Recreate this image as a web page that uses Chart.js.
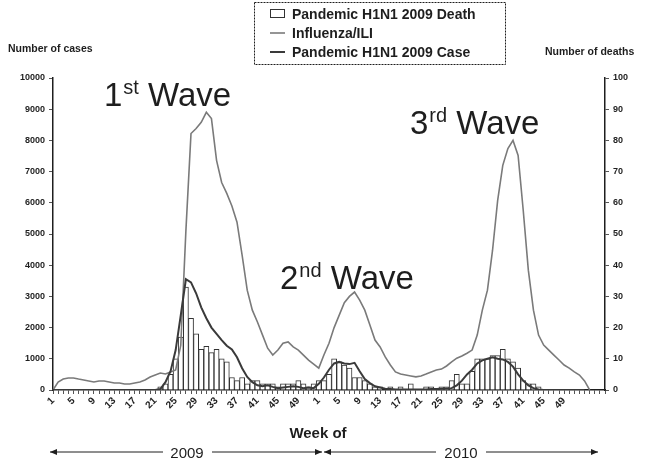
<!DOCTYPE html>
<html>
<head>
<meta charset="utf-8">
<script src="https://cdn.jsdelivr.net/npm/chart.js@4.4.1/dist/chart.umd.min.js"></script>
<style>
  html, body { margin: 0; padding: 0; background: #fff; }
</style>
</head>
<body>
<canvas id="MyChart" width="645" height="461"></canvas>
<script>
// week numbers on the category axis (2009, 2010, first weeks of 2011)
const weeks2009 = [1,2,3,4,5,6,7,8,9,10,11,12,13,14,15,16,17,18,19,20,21,22,23,24,25,26,
  27,28,29,30,31,32,33,34,35,36,37,38,39,40,41,42,43,44,45,46,47,48,49,50,51,52];
const weeks2010 = [1,2,3,4,5,6,7,8,9,10,11,12,13,14,15,16,17,18,19,20,21,22,23,24,25,26,
  27,28,29,30,31,32,33,34,35,36,37,38,39,40,41,42,43,44,45,46,47,48,49,50,51,52];
const weeks2011 = [1,2,3,4,5];
const tickWeeks = [1,5,9,13,17,21,25,29,33,37,41,45,49];

// Influenza/ILI cases per week
const iliCases = [
  0,256,350,384,384,350,320,290,256,290,
  290,256,224,224,190,190,224,256,320,416,
  480,544,512,576,640,1440,5100,8220,8380,8580,
  8900,8700,7360,6650,6300,5900,5380,4320,3200,2560,
  2180,1760,1340,1120,1280,1500,1540,1380,1280,1120,
  960,830,700,1120,1500,2000,2400,2800,3000,3140,
  2880,2560,2080,1600,1380,1060,800,580,510,480,
  450,420,450,510,580,640,670,770,900,1020,
  1090,1180,1280,1760,2560,3200,4480,6080,7200,7740,
  8000,7520,5760,3840,2560,1760,1440,1280,1120,960,
  800,700,580,480,290,0,null,null,null
];

// Pandemic H1N1 2009 confirmed cases per week
const h1n1Cases = [
  0,0,0,0,0,0,0,0,0,0,
  0,0,0,0,0,0,0,0,0,0,
  0,30,250,600,1280,2400,3550,3450,3100,2650,
  2300,2000,1800,1600,1420,1300,1050,700,420,250,
  150,120,150,100,60,80,100,120,100,60,
  80,60,200,400,650,850,900,850,830,870,
  600,350,220,120,80,40,30,20,20,20,
  20,20,20,20,30,30,40,50,60,150,
  300,500,650,850,950,1000,1050,1000,980,900,
  750,500,300,150,60,20,0,0,0,0,
  0,0,0,0,0,null,null,null,null
];

// Pandemic H1N1 2009 deaths per week
const h1n1Deaths = [
  0,0,0,0,0,0,0,0,0,0,
  0,0,0,0,0,0,0,0,0,0,
  0,1,2,5,10,17,33,23,18,13,
  14,12,13,10,9,4,3,4,2,3,
  3,2,2,2,1,2,2,2,3,2,
  1,2,3,3,5,10,9,8,7,4,
  4,3,2,1,1,0,1,0,1,0,
  2,0,0,1,1,0,1,1,3,5,
  2,2,6,10,10,10,11,11,13,10,
  9,7,3,2,2,1,0,0,0,0,
  0,0,0,0,0,0,0,0,0
];

const weekLabels = weeks2009.concat(weeks2010, weeks2011).map(String);
const lastLabelledIndex = weeks2009.length + weeks2010.length - 1;

const FONT = '"Liberation Sans", Arial, sans-serif';
const INK = '#1e1e1e';

const drawArrow = (ctx, x1, x2, y) => {
  const dir = x2 > x1 ? 1 : -1;
  ctx.beginPath();
  ctx.moveTo(x1, y);
  ctx.lineTo(x2, y);
  ctx.stroke();
  ctx.beginPath();
  ctx.moveTo(x2, y);
  ctx.lineTo(x2 - dir * 7, y - 3);
  ctx.lineTo(x2 - dir * 7, y + 3);
  ctx.closePath();
  ctx.fill();
};

const drawWave = (ctx, x, y, num, sup) => {
  ctx.font = '33px ' + FONT;
  ctx.fillText(num, x, y);
  let w = ctx.measureText(num).width;
  ctx.font = '20px ' + FONT;
  ctx.fillText(sup, x + w + 1, y - 12);
  w += ctx.measureText(sup).width + 1;
  ctx.font = '33px ' + FONT;
  ctx.fillText(' Wave', x + w, y);
};

const extrasPlugin = {
  id: 'extras',
  afterDraw(chart) {
    const ctx = chart.ctx;
    ctx.save();
    ctx.fillStyle = INK;
    ctx.strokeStyle = INK;
    ctx.textBaseline = 'alphabetic';

    // axis titles
    ctx.font = 'bold 10.5px ' + FONT;
    ctx.textAlign = 'left';
    ctx.fillText('Number of cases', 8, 52);
    ctx.fillText('Number of deaths', 545, 55);

    // legend box
    ctx.lineWidth = 1;
    ctx.setLineDash([2, 1]);
    ctx.strokeRect(254.5, 2.5, 251, 62);
    ctx.setLineDash([]);
    const ds = chart.data.datasets;
    const rows = [14, 33, 52];
    ds.forEach((d, i) => {
      const y = rows[i];
      if (d.type === 'bar') {
        ctx.lineWidth = 1;
        ctx.strokeStyle = d.borderColor;
        ctx.strokeRect(270.5, y - 4.5, 14, 8);
      } else {
        ctx.lineWidth = d.borderWidth;
        ctx.strokeStyle = d.borderColor;
        ctx.beginPath();
        ctx.moveTo(270, y);
        ctx.lineTo(285, y);
        ctx.stroke();
      }
      ctx.font = 'bold 14px ' + FONT;
      ctx.fillStyle = INK;
      ctx.fillText(d.label, 292, y + 5);
    });

    // wave annotations
    ctx.fillStyle = INK;
    drawWave(ctx, 104, 106, '1', 'st');
    drawWave(ctx, 280, 289, '2', 'nd');
    drawWave(ctx, 410, 134, '3', 'rd');

    // x axis title and year arrows
    ctx.textAlign = 'center';
    ctx.font = 'bold 15px ' + FONT;
    ctx.fillText('Week of', 318, 438);
    ctx.font = '15px ' + FONT;
    ctx.fillText('2009', 187, 458);
    ctx.fillText('2010', 461, 458);
    ctx.strokeStyle = INK;
    ctx.lineWidth = 1;
    drawArrow(ctx, 163, 50, 452);
    drawArrow(ctx, 212, 322, 452);
    drawArrow(ctx, 436, 324, 452);
    drawArrow(ctx, 486, 598, 452);
    ctx.restore();
  }
};

new Chart('MyChart', {
  data: {
    labels: weekLabels,
    datasets: [
      {
        type: 'bar',
        label: 'Pandemic H1N1 2009 Death',
        data: h1n1Deaths,
        yAxisID: 'y1',
        backgroundColor: '#ffffff',
        borderColor: '#333333',
        borderWidth: 1,
        categoryPercentage: 1,
        barPercentage: 1,
        order: 3,
      },
      {
        type: 'line',
        label: 'Influenza/ILI',
        data: iliCases,
        yAxisID: 'y',
        borderColor: '#7a7a7a',
        borderWidth: 1.6,
        pointRadius: 0,
        tension: 0,
        order: 2,
      },
      {
        type: 'line',
        label: 'Pandemic H1N1 2009 Case',
        data: h1n1Cases,
        yAxisID: 'y',
        borderColor: '#3a3a3a',
        borderWidth: 2,
        pointRadius: 0,
        tension: 0,
        order: 1,
      },
    ],
  },
  options: {
    responsive: false,
    animation: false,
    layout: { padding: { top: 78, left: 0, right: 0, bottom: 0 } },
    plugins: {
      legend: { display: false },
      tooltip: { enabled: false },
    },
    scales: {
      x: {
        type: 'category',
        offset: false,
        grid: { offset: false, drawOnChartArea: false, tickLength: 4, color: '#555' },
        border: { color: INK, width: 1.5 },
        ticks: {
          autoSkip: false,
          minRotation: 45,
          maxRotation: 45,
          padding: 1,
          color: INK,
          font: { family: FONT, size: 10, weight: 'bold' },
          callback: function (value, index) {
            const wk = Number(this.getLabelForValue(value));
            return index <= lastLabelledIndex && tickWeeks.includes(wk) ? String(wk) : '';
          },
        },
        afterFit: (scale) => { scale.height = 71; },
      },
      y: {
        position: 'left',
        min: 0,
        max: 10000,
        grid: { drawOnChartArea: false, tickLength: 4, color: '#555' },
        border: { color: INK, width: 1.5 },
        ticks: {
          stepSize: 1000,
          padding: 4,
          color: INK,
          font: { family: FONT, size: 9, weight: 'bold' },
          callback: (value) => String(value),
        },
        afterFit: (scale) => { scale.width = 53; },
      },
      y1: {
        position: 'right',
        min: 0,
        max: 100,
        grid: { drawOnChartArea: false, tickLength: 4, color: '#555' },
        border: { color: INK, width: 1.5 },
        ticks: {
          stepSize: 10,
          padding: 4,
          color: INK,
          font: { family: FONT, size: 9, weight: 'bold' },
          callback: (value) => String(value),
        },
        afterFit: (scale) => { scale.width = 40; },
      },
    },
  },
  plugins: [extrasPlugin],
});
</script>
</body>
</html>
